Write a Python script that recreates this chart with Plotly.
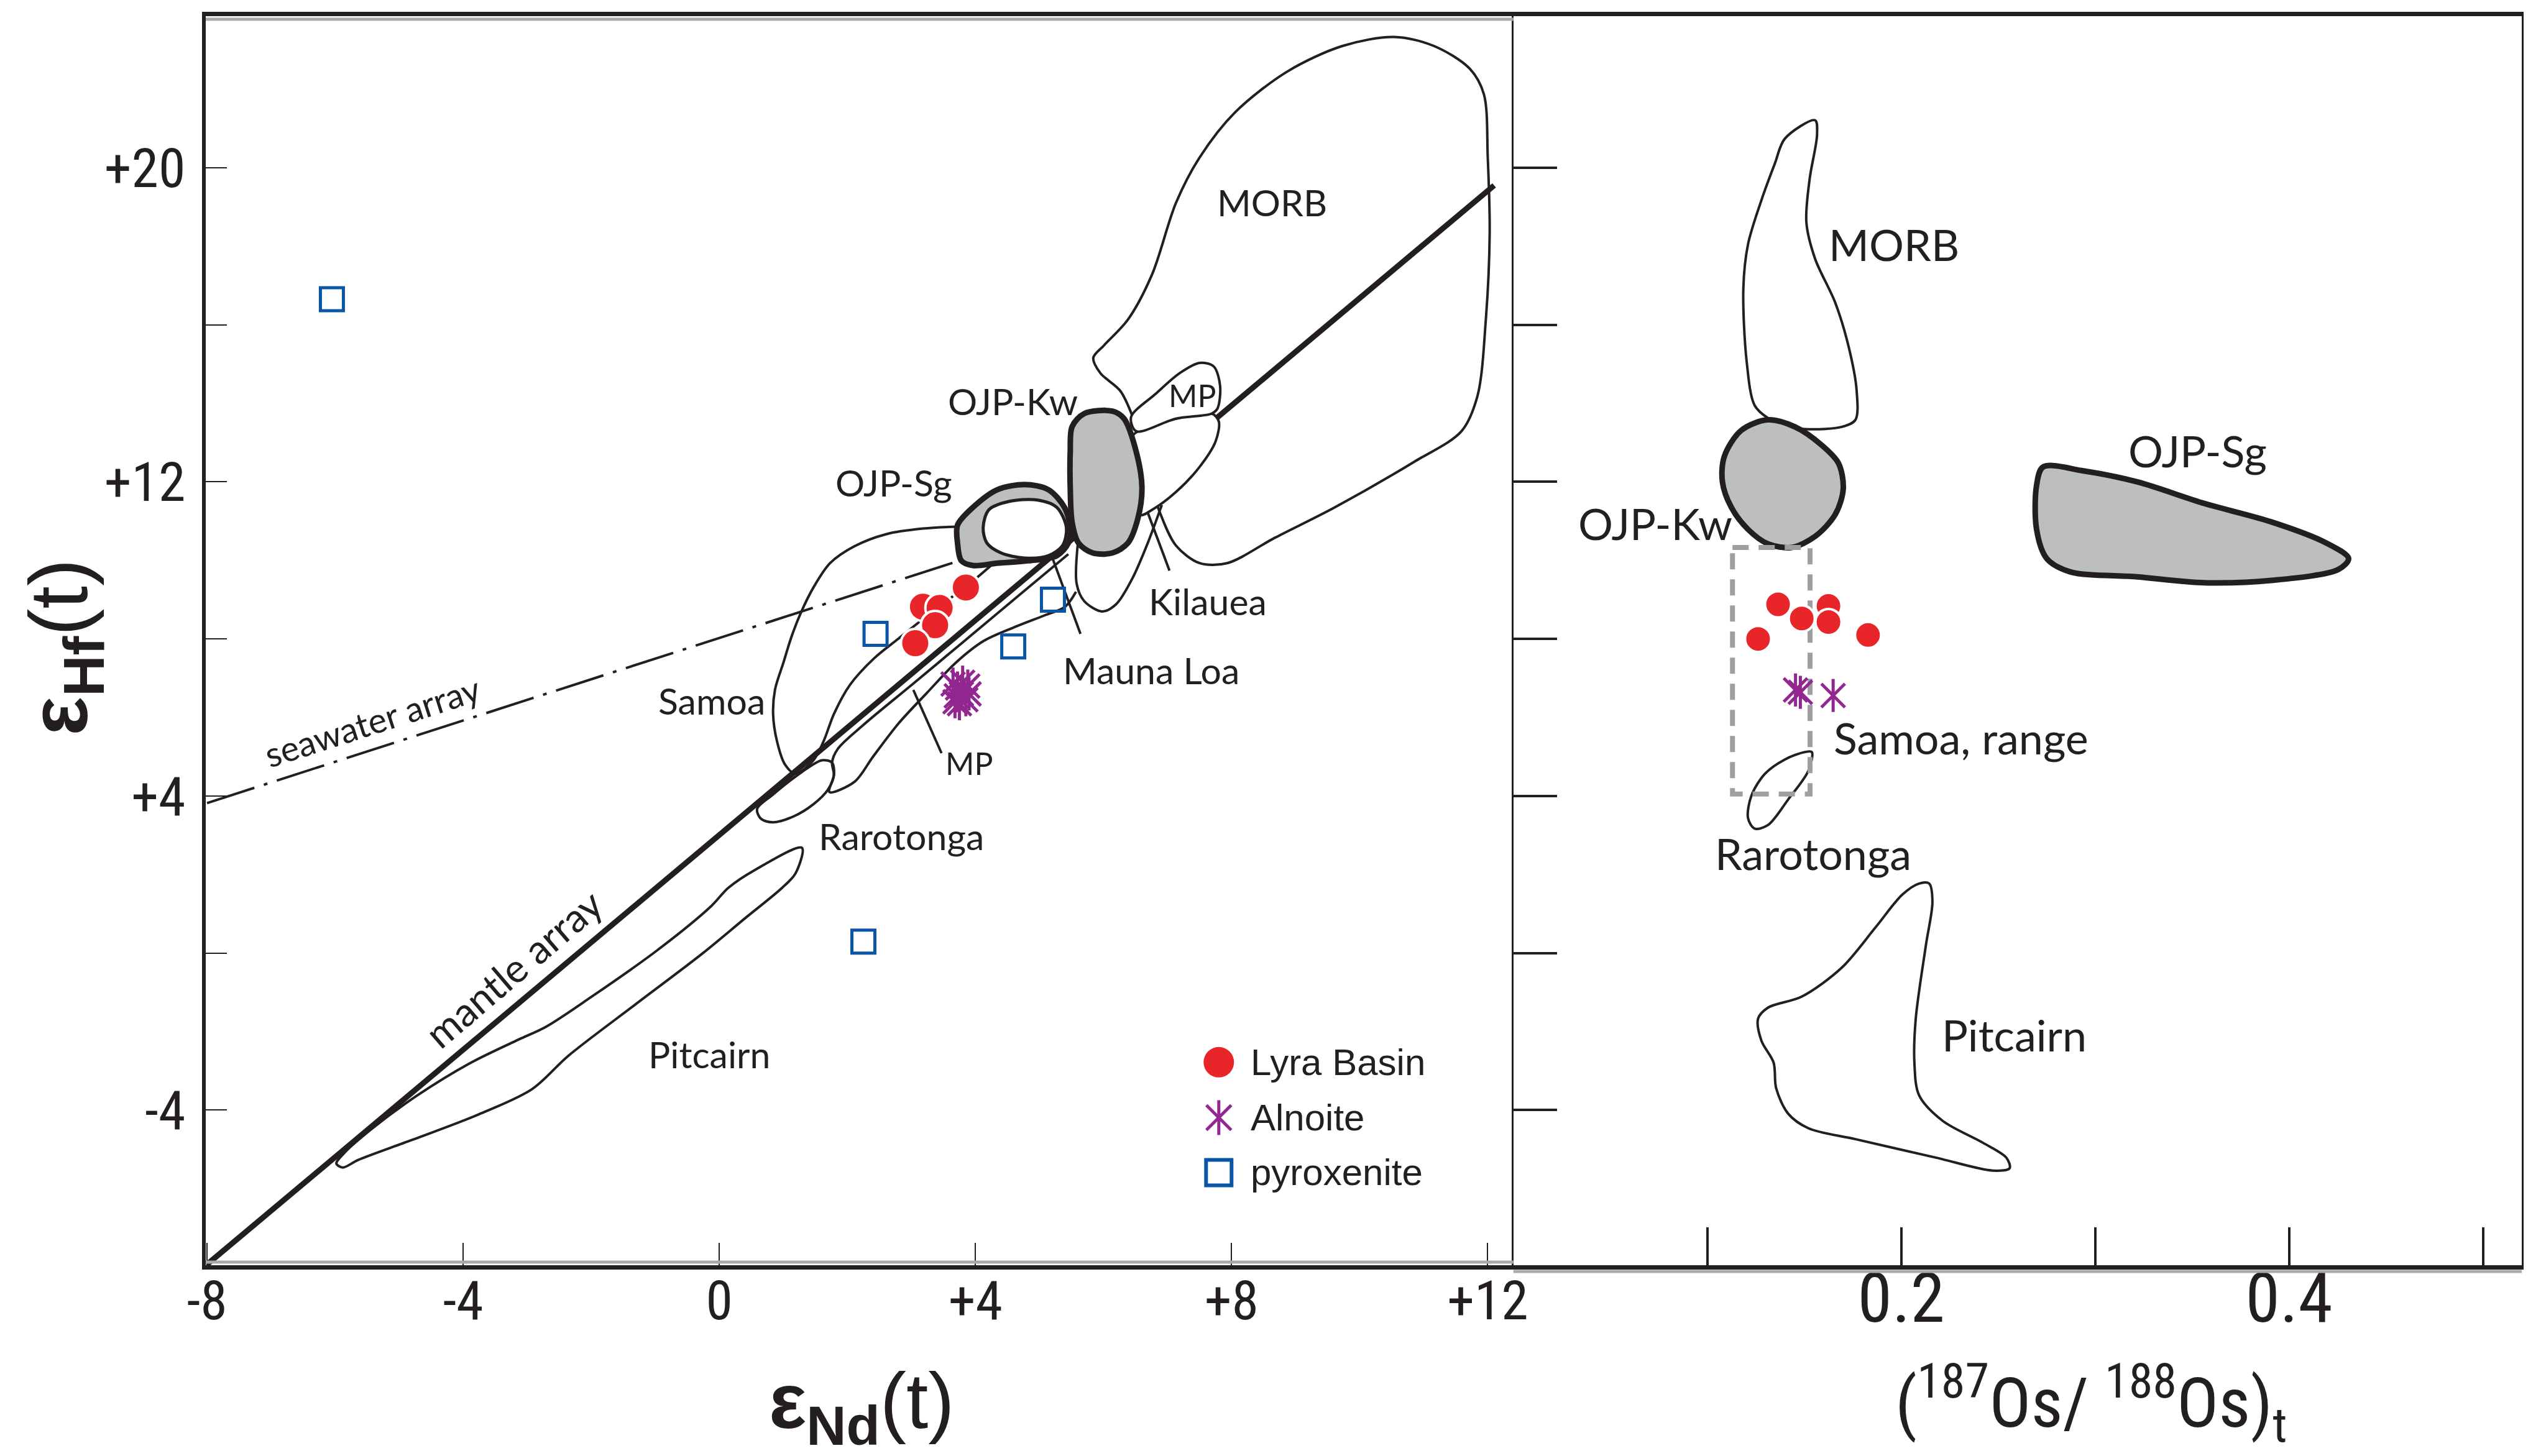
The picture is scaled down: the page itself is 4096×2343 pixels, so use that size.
import plotly.graph_objects as go

# ------------------------------------------------------------------ colours
INK = '#231f20'
GRAY_FILL = '#bcbec0'
RED = '#e8262a'
PURPLE = '#92278f'
BLUE = '#0a55a5'
DASH_GRAY = '#9d9fa2'

# ------------------------------------------------------------------ axes / ticks
ND_RANGE = [-8.02, 12.4]
OS_RANGE = [0.0, 0.52]
HF_RANGE = [-7.95, 23.86]
ND_TICKS = [-8, -4, 0, 4, 8, 12]
ND_TICKTEXT = ['-8', '-4', '0', '+4', '+8', '+12']
HF_TICKS = [20, 12, 4, -4]
HF_TICKTEXT = ['+20', '+12', '+4', '-4']
HF_MINOR_TICKS = [16, 8, 0]
HF_ALL_TICKS = [20, 16, 12, 8, 4, 0, -4]
OS_TICKS = [0.2, 0.4]
OS_TICKTEXT = ['0.2', '0.4']
OS_MINOR_TICKS = [0.1, 0.3, 0.5]

# ------------------------------------------------------------------ reference arrays (left panel)
MANTLE_ND = [-8.0, 12.1]
MANTLE_HF = [-7.93, 19.55]
SEAWATER_ND = [-8.0, 3.8]
SEAWATER_HF = [3.82, 10.02]

# ------------------------------------------------------------------ fields, eps-Nd vs eps-Hf
MORB_ND = [6.45, 6.26, 5.95, 5.84, 6.01, 6.38, 6.76, 7.13, 7.50, 8.06, 8.87, 9.73, 10.54, 11.16,
           11.72, 11.94, 12.00, 12.03, 11.97, 11.84, 11.59, 10.85, 9.61, 8.68, 7.93, 7.50, 7.13, 6.88, 6.63]
MORB_HF = [13.68, 14.32, 14.77, 15.16, 15.48, 16.13, 17.29, 19.10, 20.26, 21.42, 22.45, 23.10, 23.33, 23.10,
           22.52, 21.87, 20.26, 18.32, 16.13, 14.19, 13.29, 12.51, 11.35, 10.58, 9.93, 9.93, 10.38, 11.22, 12.51]

MPU_ND = [6.43, 6.82, 7.19, 7.50, 7.72, 7.82, 7.78, 7.69, 7.13, 6.51, 6.43]
MPU_HF = [13.65, 14.25, 14.77, 15.03, 14.94, 14.45, 13.87, 13.74, 13.61, 13.29, 13.65]

HAW_ND = [6.45, 6.76, 7.25, 7.69, 7.80, 7.75, 7.50, 7.13, 6.76, 6.57, 6.45]
HAW_HF = [13.16, 13.41, 13.65, 13.74, 13.54, 13.03, 12.38, 11.74, 11.29, 11.16, 13.16]

KIL_ND = [5.60, 5.58, 5.70, 5.98, 6.20, 6.45, 6.69, 6.91]
KIL_HF = [10.45, 9.41, 8.96, 8.70, 8.89, 9.54, 10.44, 11.41]

OJPKW_ND = [5.51, 5.70, 6.14, 6.32, 6.51, 6.60, 6.54, 6.38, 6.14, 5.83, 5.61, 5.51, 5.48, 5.48, 5.51]
OJPKW_HF = [13.41, 13.74, 13.80, 13.61, 12.77, 11.86, 11.09, 10.44, 10.19, 10.19, 10.44, 10.96, 11.86, 12.77, 13.41]

OJPSG_ND = [3.72, 3.96, 4.34, 4.77, 5.14, 5.39, 5.48, 5.45, 5.27, 4.83, 4.34, 3.96, 3.78, 3.72, 3.72]
OJPSG_HF = [10.90, 11.35, 11.80, 11.93, 11.80, 11.35, 10.83, 10.44, 10.12, 9.99, 9.93, 9.87, 9.99, 10.44, 10.90]

OJPSG_IN_ND = [4.12, 4.21, 4.52, 4.96, 5.27, 5.42, 5.36, 5.14, 4.77, 4.40, 4.18, 4.12]
OJPSG_IN_HF = [10.83, 11.29, 11.50, 11.54, 11.35, 10.83, 10.38, 10.12, 10.06, 10.19, 10.44, 10.83]

SAM_ND = [3.72, 3.18, 2.61, 2.11, 1.73, 1.47, 1.28, 1.13, 1.00, 0.87, 0.84, 0.90, 1.03, 1.19,
          1.47, 1.63, 1.79, 2.04, 2.42, 2.80, 3.37, 3.88, 4.30]
SAM_HF = [10.86, 10.81, 10.67, 10.36, 9.93, 9.31, 8.69, 8.07, 7.39, 6.71, 6.09, 5.40, 4.79, 4.57,
          4.91, 5.40, 6.09, 6.83, 7.51, 8.01, 8.75, 9.37, 9.95]

MPL_ND = [5.45, 4.65, 3.85, 3.05, 2.25, 1.85, 1.76, 1.79, 1.72, 2.11, 2.40, 2.80, 3.25, 3.69,
          4.13, 4.64, 5.08, 5.40, 5.57]
MPL_HF = [10.16, 9.07, 7.98, 6.89, 5.81, 5.20, 4.85, 4.54, 4.10, 4.36, 5.00, 5.85, 6.64, 7.39,
          7.95, 8.32, 8.60, 8.82, 9.20]

RAR_ND = [0.65, 0.59, 0.84, 1.28, 1.60, 1.76, 1.79, 1.70, 1.47, 1.16, 0.84, 0.65]
RAR_HF = [3.42, 3.67, 4.04, 4.60, 4.91, 4.85, 4.54, 4.17, 3.79, 3.48, 3.33, 3.42]

PIT_ND = [1.29, 1.19, 0.98, 0.42, -0.27, -1.32, -2.36, -2.92, -3.76, -4.80, -5.64, -5.88, -5.98,
          -5.85, -5.43, -4.73, -3.90, -3.13, -2.71, -2.02, -0.97, -0.13, 0.14, 0.56, 1.29]
PIT_HF = [2.68, 2.03, 1.66, 0.91, -0.02, -1.32, -2.62, -3.46, -4.11, -4.76, -5.27, -5.46, -5.36,
          -5.08, -4.48, -3.64, -2.81, -2.20, -1.88, -1.14, 0.07, 1.19, 1.66, 2.12, 2.68]

# label leader lines (eps-Nd, eps-Hf pairs)
LEADER_KIL_ND = [6.69, 7.03]
LEADER_KIL_HF = [11.22, 9.74]
LEADER_ML_ND = [5.20, 5.64]
LEADER_ML_HF = [10.07, 8.13]
LEADER_MP_ND = [3.03, 3.47]
LEADER_MP_HF = [6.70, 5.09]

# ------------------------------------------------------------------ samples, eps-Nd vs eps-Hf
LYRA_ND = [3.18, 3.44, 3.85, 3.37, 3.06]
LYRA_HF = [8.82, 8.79, 9.31, 8.35, 7.89]
ALN_ND = [3.65, 3.72, 3.80, 3.88, 3.70, 3.78, 3.85, 3.75, 3.90, 3.68]
ALN_HF = [6.85, 6.75, 6.90, 6.80, 6.55, 6.60, 6.45, 6.35, 6.60, 6.40]
PYX_ND = [-6.05, 2.44, 4.59, 5.21, 2.25]
PYX_HF = [16.65, 8.13, 7.81, 9.00, 0.29]

# ------------------------------------------------------------------ fields, 187Os/188Os vs eps-Hf
MORB_OS = [0.140, 0.1556, 0.1566, 0.1528, 0.1511, 0.1556, 0.1660, 0.1729, 0.1770, 0.1764, 0.1694,
           0.1521, 0.1417, 0.1314, 0.1244, 0.1203, 0.1186, 0.1210, 0.1279, 0.1348, 0.140]
MORB_HF_OS = [20.74, 21.21, 20.84, 19.72, 18.61, 17.68, 16.56, 15.44, 14.33, 13.58, 13.40,
              13.34, 13.40, 13.62, 13.95, 15.07, 16.93, 18.05, 19.17, 20.10, 20.74]
OJPKW_OS = [0.1088, 0.1175, 0.1313, 0.1452, 0.1591, 0.1677, 0.1701, 0.1660, 0.1556, 0.1435,
            0.1313, 0.1210, 0.1124, 0.1078, 0.1088]
OJPKW_HF_OS = [12.65, 13.31, 13.58, 13.40, 12.93, 12.47, 11.82, 11.17, 10.61, 10.33,
               10.42, 10.79, 11.35, 12.00, 12.65]
OJPSG_OS = [0.2732, 0.2940, 0.3217, 0.3563, 0.3909, 0.4185, 0.4307, 0.4255, 0.3909, 0.3563,
            0.3217, 0.2870, 0.2750, 0.2698, 0.2698, 0.2732]
OJPSG_HF_OS = [12.38, 12.28, 12.00, 11.45, 10.98, 10.46, 10.05, 9.77, 9.49, 9.43,
               9.58, 9.71, 10.05, 10.79, 11.91, 12.38]
RAR_OS = [0.1539, 0.1521, 0.1417, 0.1313, 0.1244, 0.1210, 0.1227, 0.1296, 0.1400, 0.1504, 0.1539]
RAR_HF_OS = [5.12, 4.64, 3.91, 3.26, 3.17, 3.44, 4.00, 4.56, 4.93, 5.12, 5.12]
PIT_OS = [0.2144, 0.2161, 0.2127, 0.2075, 0.2068, 0.2092, 0.2213, 0.2421, 0.2542, 0.2559, 0.2473,
          0.2179, 0.1764, 0.1521, 0.1417, 0.1355, 0.1342, 0.1279, 0.1262, 0.1313, 0.1487, 0.1694,
          0.1867, 0.2006, 0.2092, 0.2144]
PIT_HF_OS = [1.77, 1.31, 0.19, -1.67, -2.79, -3.62, -4.27, -4.83, -5.21, -5.48, -5.54,
             -5.21, -4.74, -4.46, -4.09, -3.44, -2.79, -2.23, -1.67, -1.39, -1.11, -0.37,
             0.65, 1.49, 1.77, 1.77]
SAMOA_OS_RANGE = [0.113, 0.153]
SAMOA_HF_RANGE = [4.05, 10.33]

# ------------------------------------------------------------------ samples, 187Os/188Os vs eps-Hf
LYRA_OS = [0.1365, 0.1487, 0.1625, 0.1625, 0.1262, 0.1829]
LYRA_HF_OS = [8.88, 8.52, 8.84, 8.43, 8.00, 8.10]
ALN_OS = [0.1455, 0.1480, 0.1649]
ALN_HF_OS = [6.70, 6.64, 6.56]

# ------------------------------------------------------------------ text
LEFT_LABELS = ['MORB', 'OJP-Kw', 'OJP-Sg', 'Kilauea', 'Mauna Loa', 'Samoa', 'Rarotonga', 'Pitcairn']
LEFT_LABEL_ND = [8.63, 4.58, 2.73, 7.63, 6.74, -0.12, 2.84, -0.16]
LEFT_LABEL_HF = [19.12, 14.06, 11.99, 8.96, 7.21, 6.43, 2.98, -2.57]
SMALL_LABELS = ['MP', 'MP']
SMALL_LABEL_ND = [7.38, 3.90]
SMALL_LABEL_HF = [14.21, 4.83]
RIGHT_LABELS = ['MORB', 'OJP-Sg', 'OJP-Kw', 'Samoa, range', 'Rarotonga', 'Pitcairn']
RIGHT_LABEL_OS = [0.1964, 0.3528, 0.0732, 0.2310, 0.1545, 0.2584]
RIGHT_LABEL_HF = [18.05, 12.80, 10.94, 5.48, 2.55, -2.08]
LEGEND_LABELS = ['Lyra Basin', 'Alnoite', 'pyroxenite']
LEGEND_ND = 7.8
LEGEND_TEXT_ND = 8.28
LEGEND_HF = [-2.78, -4.19, -5.59]

# ------------------------------------------------------------------ fonts
NUM_FONT = 'Roboto Condensed, Asap Condensed, Liberation Sans Narrow, DejaVu Sans Condensed, sans-serif'
LABEL_FONT = 'Lato'
SANS = 'Liberation Sans'

# ------------------------------------------------------------------ figure
W, H = 4096, 2343
ML, MR, MT, MB = 323, 47, 18, 315
SPLIT = 0.5646

fig = go.Figure()


def add_path(x, y, xa, ya, width=4.0, color=INK, fillcolor=None, spline=True, dash=None):
    line = dict(color=color, width=width)
    if spline:
        line.update(shape='spline', smoothing=0.9)
    if dash:
        line['dash'] = dash
    fig.add_trace(go.Scatter(
        x=x, y=y, mode='lines', line=line,
        fill='toself' if fillcolor else 'none', fillcolor=fillcolor,
        xaxis=xa, yaxis=ya, hoverinfo='skip', showlegend=False))


def add_markers(x, y, xa, ya, symbol, size, color, lw, lcolor=None):
    fig.add_trace(go.Scatter(
        x=x, y=y, mode='markers', xaxis=xa, yaxis=ya, hoverinfo='skip', showlegend=False,
        marker=dict(symbol=symbol, size=size, color=color,
                    line=dict(width=lw, color=lcolor or color))))


# ---- left panel: open field outlines
for fx, fy in [(MORB_ND, MORB_HF), (SAM_ND, SAM_HF), (MPL_ND, MPL_HF), (KIL_ND, KIL_HF),
               (RAR_ND, RAR_HF), (PIT_ND, PIT_HF)]:
    add_path(fx, fy, 'x', 'y', width=4)
# leader lines
for lx, ly in [(LEADER_KIL_ND, LEADER_KIL_HF), (LEADER_ML_ND, LEADER_ML_HF), (LEADER_MP_ND, LEADER_MP_HF)]:
    add_path(lx, ly, 'x', 'y', width=4, spline=False)
# arrays
add_path(SEAWATER_ND, SEAWATER_HF, 'x', 'y', width=4, spline=False, dash='80px,16px,6px,16px')
add_path(MANTLE_ND, MANTLE_HF, 'x', 'y', width=9, spline=False)
# white-filled fields covering the mantle array
add_path(HAW_ND, HAW_HF, 'x', 'y', width=4, fillcolor='white')
add_path(MPU_ND, MPU_HF, 'x', 'y', width=4, fillcolor='white')
# OJP fields
add_path(OJPKW_ND, OJPKW_HF, 'x', 'y', width=9, fillcolor=GRAY_FILL)
add_path(OJPSG_ND, OJPSG_HF, 'x', 'y', width=9, fillcolor=GRAY_FILL)
add_path(OJPSG_IN_ND, OJPSG_IN_HF, 'x', 'y', width=5, fillcolor='white')
# samples
add_markers(PYX_ND, PYX_HF, 'x', 'y', 'square-open', 37, BLUE, 5)
add_markers(ALN_ND, ALN_HF, 'x', 'y', 'x-thin-open', 38, PURPLE, 5)
add_markers(ALN_ND, ALN_HF, 'x', 'y', 'line-ns-open', 38, PURPLE, 5)
add_markers(LYRA_ND, LYRA_HF, 'x', 'y', 'circle', 46, RED, 4, 'white')

# legend (drawn inside the left panel)
add_markers([LEGEND_ND], [LEGEND_HF[0]], 'x', 'y', 'circle', 49, RED, 0)
add_markers([LEGEND_ND], [LEGEND_HF[1]], 'x', 'y', 'x-thin-open', 40, PURPLE, 5)
add_markers([LEGEND_ND], [LEGEND_HF[1]], 'x', 'y', 'line-ns-open', 40, PURPLE, 5)
add_markers([LEGEND_ND], [LEGEND_HF[2]], 'x', 'y', 'square-open', 41, BLUE, 6)

# ---- right panel
add_path(MORB_OS, MORB_HF_OS, 'x2', 'y2', width=4)
add_path(PIT_OS, PIT_HF_OS, 'x2', 'y2', width=4)
add_path(RAR_OS, RAR_HF_OS, 'x2', 'y2', width=4)
add_path(OJPKW_OS, OJPKW_HF_OS, 'x2', 'y2', width=9, fillcolor=GRAY_FILL)
add_path(OJPSG_OS, OJPSG_HF_OS, 'x2', 'y2', width=9, fillcolor=GRAY_FILL)
add_path([SAMOA_OS_RANGE[0], SAMOA_OS_RANGE[1], SAMOA_OS_RANGE[1], SAMOA_OS_RANGE[0], SAMOA_OS_RANGE[0]],
         [SAMOA_HF_RANGE[1], SAMOA_HF_RANGE[1], SAMOA_HF_RANGE[0], SAMOA_HF_RANGE[0], SAMOA_HF_RANGE[1]],
         'x2', 'y2', width=8, color=DASH_GRAY, spline=False, dash='26px,16px')
add_markers(LYRA_OS, LYRA_HF_OS, 'x2', 'y2', 'circle', 42, RED, 4, 'white')
add_markers(ALN_OS, ALN_HF_OS, 'x2', 'y2', 'x-thin-open', 38, PURPLE, 5)
add_markers(ALN_OS, ALN_HF_OS, 'x2', 'y2', 'line-ns-open', 38, PURPLE, 5)

# ------------------------------------------------------------------ annotations
ann = []
for t, x, y in zip(LEFT_LABELS, LEFT_LABEL_ND, LEFT_LABEL_HF):
    ann.append(dict(text=t, x=x, y=y, xref='x', yref='y', showarrow=False,
                    font=dict(family=LABEL_FONT, size=59, color=INK)))
for t, x, y in zip(SMALL_LABELS, SMALL_LABEL_ND, SMALL_LABEL_HF):
    ann.append(dict(text=t, x=x, y=y, xref='x', yref='y', showarrow=False,
                    font=dict(family=LABEL_FONT, size=50, color=INK)))
for t, x, y in zip(RIGHT_LABELS, RIGHT_LABEL_OS, RIGHT_LABEL_HF):
    ann.append(dict(text=t, x=x, y=y, xref='x2', yref='y2', showarrow=False,
                    font=dict(family=LABEL_FONT, size=70, color=INK)))
ann.append(dict(text='seawater array', x=-5.42, y=5.90, xref='x', yref='y', showarrow=False,
                textangle=-17.8, font=dict(family=LABEL_FONT, size=56, color=INK)))
ann.append(dict(text='mantle array', x=-3.22, y=-0.39, xref='x', yref='y', showarrow=False,
                textangle=-40.5, font=dict(family=LABEL_FONT, size=64, color=INK)))
for t, y in zip(LEGEND_LABELS, LEGEND_HF):
    ann.append(dict(text=t, x=LEGEND_TEXT_ND, y=y, xref='x', yref='y', xanchor='left',
                    showarrow=False, font=dict(family=SANS, size=60, color=INK)))
# axis titles
ann.append(dict(text='<b>ε</b><sub><b>Nd</b></sub>(t)', x=0.2832, y=-0.113, xref='paper', yref='paper',
                xanchor='center', yanchor='middle',
                showarrow=False, font=dict(family=SANS, size=127, color=INK)))
ann.append(dict(text='<b>ε</b><sub><b>Hf</b></sub>(t)', x=-0.0610, y=0.4950, xref='paper', yref='paper',
                xanchor='center', yanchor='middle',
                showarrow=False, textangle=-90, font=dict(family=SANS, size=132, color=INK)))
ann.append(dict(text='(<sup>187</sup>Os/ <sup>188</sup>Os)<sub>t</sub>', x=0.8140, y=-0.110,
                xref='paper', yref='paper', showarrow=False, xanchor='center', yanchor='middle',
                font=dict(family=NUM_FONT, size=112, color=INK)))

# ------------------------------------------------------------------ frame decorations (grey shadows)
shapes = [
    dict(type='line', xref='x domain', x0=0, x1=1, yref='paper', ysizemode='pixel', yanchor=1,
         y0=-5, y1=-5, line=dict(color='#a7a9ac', width=5)),
    dict(type='line', xref='x domain', x0=0, x1=1, yref='paper', ysizemode='pixel', yanchor=0,
         y0=5, y1=5, line=dict(color='#a7a9ac', width=5)),
    dict(type='line', xref='x2 domain', x0=0, x1=1, yref='paper', ysizemode='pixel', yanchor=0,
         y0=-10, y1=-10, line=dict(color='#a7a9ac', width=5)),
]

tick_font_l = dict(family=NUM_FONT, size=88, color=INK)
tick_font_r = dict(family=NUM_FONT, size=112, color=INK)

fig.update_layout(
    width=W, height=H,
    margin=dict(l=ML, r=MR, t=MT, b=MB),
    paper_bgcolor='white', plot_bgcolor='white',
    showlegend=False,
    annotations=ann, shapes=shapes,
    xaxis=dict(domain=[0, SPLIT], range=ND_RANGE, tickvals=ND_TICKS, ticktext=ND_TICKTEXT,
               ticks='inside', ticklen=36, tickwidth=2, tickcolor=INK,
               showline=True, linewidth=7, linecolor=INK, mirror=True,
               showgrid=False, zeroline=False, tickfont=tick_font_l, ticklabelstandoff=-26,
               anchor='y', fixedrange=True),
    yaxis=dict(range=HF_RANGE, tickvals=HF_TICKS, ticktext=HF_TICKTEXT,
               ticks='inside', ticklen=34, tickwidth=2, tickcolor=INK,
               minor=dict(tickvals=HF_MINOR_TICKS, ticks='inside', ticklen=34, tickwidth=2,
                          tickcolor=INK, showgrid=False),
               showline=True, linewidth=6, linecolor=INK, mirror=False,
               showgrid=False, zeroline=False, tickfont=tick_font_l, ticklabelstandoff=9,
               anchor='x', fixedrange=True),
    xaxis2=dict(domain=[SPLIT, 1], range=OS_RANGE, tickvals=OS_TICKS, ticktext=OS_TICKTEXT,
                ticks='inside', ticklen=61, tickwidth=4, tickcolor=INK,
                minor=dict(tickvals=OS_MINOR_TICKS, ticks='inside', ticklen=61, tickwidth=4,
                           tickcolor=INK, showgrid=False),
                showline=True, linewidth=7, linecolor=INK, mirror=True,
                showgrid=False, zeroline=False, tickfont=tick_font_r, ticklabelstandoff=-50,
                anchor='y2', fixedrange=True),
    yaxis2=dict(range=HF_RANGE, tickvals=HF_ALL_TICKS, showticklabels=False, matches='y',
                ticks='inside', ticklen=70, tickwidth=4, tickcolor=INK,
                showline=True, linewidth=3, linecolor=INK, mirror=True,
                showgrid=False, zeroline=False, anchor='x2', fixedrange=True),
)

fig.write_html('out.html', config={'displayModeBar': False})
